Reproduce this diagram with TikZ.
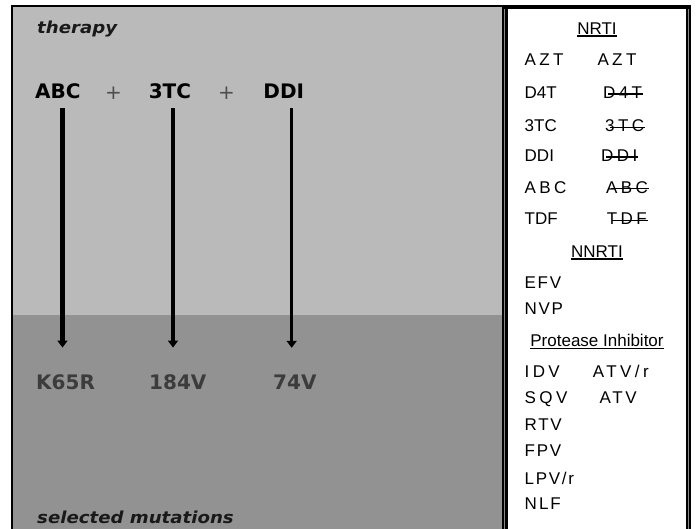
\documentclass[tikz,border=0pt]{standalone}
\usepackage{fontspec}
\setmainfont{Liberation Sans}
\newfontfamily\dv{DejaVu Sans}
\newfontfamily\dvbi{DejaVu Sans Bold Oblique}
\usetikzlibrary{arrows.meta}
\definecolor{lightbg}{HTML}{BABABA}
\definecolor{darkbg}{HTML}{929292}
\definecolor{midline}{HTML}{8A8A8A}
\definecolor{plusgray}{HTML}{4D4D4D}
\definecolor{labelgray}{HTML}{3C3C3C}
\newcommand\spc[1]{\addfontfeature{LetterSpace=#1}}
\newcommand\ulx[1]{\setbox0\hbox{#1}\rlap{\rule[-2.4pt]{\wd0}{1.3pt}}\box0}
\newcommand\stx[1]{\setbox0\hbox{#1}\rlap{\hspace{5pt}\rule[3.9pt]{\dimexpr\wd0-4pt\relax}{1.3pt}}\box0}
\begin{document}
\begin{tikzpicture}[x=1pt,y=-1pt,
  rt/.style={font=\fontsize{17}{20}\selectfont, anchor=base west, inner sep=0pt},
  hd/.style={rt, anchor=base},
  bigb/.style={font=\dv\bfseries\fontsize{20}{24}\selectfont, anchor=base west, inner sep=0pt},
  mut/.style={bigb, text=labelgray},
  ital/.style={font=\dvbi\fontsize{16.5}{20}\selectfont, anchor=base west, inner sep=0pt, xscale=1.1, text=black!90},
  plus/.style={font=\dv\fontsize{20}{24}\selectfont, text=plusgray, anchor=base, inner sep=0pt},
  arr/.style={-{Triangle[width=10pt,length=7pt]}, line width=3.5pt}
]
\useasboundingbox (0,0) rectangle (696,529);
% left panel
\fill[lightbg] (12,6) rectangle (503,315);
\fill[darkbg] (12,315) rectangle (503,529);
\fill[black] (11,5) rectangle (13,529);
\fill[black] (11,5) rectangle (503,7);
% right panel
\fill[white] (503,5) rectangle (690.5,529);
\fill[black] (502,5) rectangle (503.8,529);
\fill[midline] (503.8,9) rectangle (505,529);
\fill[black] (505,5) rectangle (507.5,529);
\fill[black] (502,5) rectangle (688.8,9);
\fill[black] (686,5) rectangle (687.5,529);
\fill[midline] (687.5,9) rectangle (688.8,529);
\fill[black] (688.8,5) rectangle (690.5,529);

% left texts
\node[ital] (ther) at (37,34) {therapy};
\node[bigb] (abc) at (35,99) {ABC};
\node[plus] (p1) at (113.5,100) {+};
\node[bigb] (tc) at (148.6,99) {3TC};
\node[plus] (p2) at (226.5,100) {+};
\node[bigb] (ddi) at (263.2,99) {DDI};
\node[mut] (k65r) at (36,389) {K65R};
\node[mut] (m184) at (149,389) {184V};
\node[mut] (m74) at (273,389) {74V};
\node[ital] (sel) at (37,523) {selected mutations};

\draw[arr, line width=5pt, shorten <=9pt, shorten >=26.4pt] (62.5,0 |- abc.south) -- (62.5,0 |- k65r.north);
\draw[arr, shorten <=9pt, shorten >=26.4pt] (173,0 |- tc.south) -- (173,0 |- m184.north);
\draw[arr, shorten <=9pt, shorten >=26.4pt] (291.7,0 |- ddi.south) -- (291.7,0 |- m74.north);

% right texts
\node[hd] (nrti) at (597,34.3) {\ulx{NRTI}};
\node[rt] (azt1) at (524.5,65.7) {\spc{20}AZT};
\node[rt] (azt2) at (597.3,65.7) {\spc{20}AZT};
\node[rt] (d4t1) at (524.5,98.7) {D4T};
\node[rt] (d4t2) at (603,98.7) {\spc{20}\stx{D4T}};
\node[rt] (tc1) at (524.5,132) {3TC};
\node[rt] (tc2) at (605,132) {\spc{20}\stx{3TC}};
\node[rt] (ddi1) at (524.5,161.7) {DDI};
\node[rt] (ddi2) at (601,161.7) {\spc{20}\stx{DDI}};
\node[rt] (abc1) at (524.5,193.3) {\spc{20}ABC};
\node[rt] (abc2) at (606,193.3) {\spc{20}\stx{ABC}};
\node[rt] (tdf1) at (524.5,225) {TDF};
\node[rt] (tdf2) at (606.7,225) {\spc{20}\stx{TDF}};
\node[hd] (nnrti) at (597,257.3) {\ulx{NNRTI}};
\node[rt] (efv) at (524.5,289) {\spc{10}EFV};
\node[rt] (nvp) at (524.5,315) {\spc{10}NVP};
\node[hd] (pinh) at (597,346.5) {\ulx{Protease Inhibitor}};
\node[rt] (idv) at (524.5,377.3) {\spc{20}IDV};
\node[rt] (atvr) at (592.7,377.3) {\spc{20}ATV/r};
\node[rt] (sqv) at (524.5,403.5) {\spc{20}SQV};
\node[rt] (atv) at (599.3,403.5) {\spc{16}ATV};
\node[rt] (rtv) at (524.5,430.7) {\spc{10}RTV};
\node[rt] (fpv) at (524.5,456.7) {\spc{10}FPV};
\node[rt] (lpv) at (524.5,484) {\spc{10}LPV/r};
\node[rt] (nlf) at (524.5,509.3) {\spc{12}NLF};
\end{tikzpicture}
\end{document}
